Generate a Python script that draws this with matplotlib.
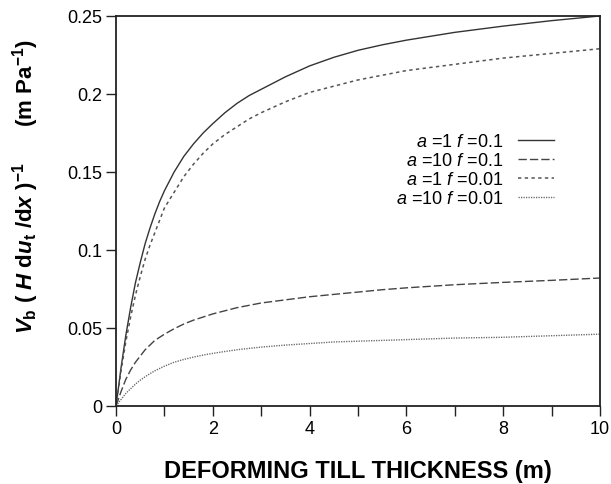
import numpy as np
from matplotlib import pyplot as plt

plt.rcParams['font.family'] = ['Liberation Sans', 'DejaVu Sans']
plt.rcParams['mathtext.fontset'] = 'custom'
plt.rcParams['mathtext.rm'] = 'Liberation Sans:bold'
plt.rcParams['mathtext.bf'] = 'Liberation Sans:bold'
plt.rcParams['mathtext.it'] = 'Liberation Sans:italic:bold'
plt.rcParams['mathtext.sf'] = 'Liberation Sans:italic'

# values
thickness = [0, 0.1, 0.2, 0.3, 0.4, 0.5, 0.6, 0.7, 0.8, 0.9,
             1.0, 1.2, 1.4, 1.6, 1.8, 2.0, 2.25, 2.5, 2.75,
             3, 3.5, 4, 4.5, 5, 5.5, 6, 7, 8, 9, 10]
a1_f01 = [0, 0.024, 0.045, 0.063, 0.079, 0.092, 0.104, 0.114, 0.123, 0.131,
          0.138, 0.150, 0.160, 0.168, 0.175, 0.181, 0.188, 0.194, 0.199,
          0.203, 0.211, 0.218, 0.2235, 0.228, 0.2315, 0.2345, 0.2395, 0.2435, 0.247, 0.250]
a10_f01 = [0, 0.009, 0.017, 0.023, 0.028, 0.032, 0.036, 0.039, 0.042, 0.044,
           0.046, 0.0495, 0.0525, 0.055, 0.057, 0.059, 0.061, 0.063, 0.0645,
           0.066, 0.068, 0.070, 0.0715, 0.073, 0.0745, 0.0757, 0.0777, 0.0792, 0.0805, 0.082]
a1_f001 = [0, 0.022, 0.041, 0.057, 0.071, 0.083, 0.094, 0.103, 0.111, 0.119,
           0.127, 0.137, 0.147, 0.155, 0.162, 0.168, 0.174, 0.179, 0.184,
           0.188, 0.195, 0.201, 0.205, 0.209, 0.212, 0.215, 0.219, 0.223, 0.226, 0.229]
a10_f001 = [0, 0.004, 0.008, 0.011, 0.014, 0.0165, 0.0187, 0.0207, 0.0225, 0.024,
            0.0255, 0.028, 0.0298, 0.0313, 0.0326, 0.0337, 0.0349, 0.036, 0.0369,
            0.0377, 0.039, 0.040, 0.041, 0.0415, 0.042, 0.0425, 0.0435, 0.044, 0.045, 0.046]

labels = [r"$\mathsf{a}$ =1 $\mathsf{f}$ =0.1",
          r"$\mathsf{a}$ =10 $\mathsf{f}$ =0.1",
          r"$\mathsf{a}$ =1 $\mathsf{f}$ =0.01",
          r"$\mathsf{a}$ =10 $\mathsf{f}$ =0.01"]

fig = plt.figure(figsize=(6.11, 4.85), dpi=100)
ax = fig.add_axes([0.19, 0.161, 0.792, 0.804])

ax.plot(thickness, a1_f01, color='#333333', lw=1.0, label=labels[0])
ax.plot(thickness, a10_f01, color='#444444', lw=1.0, dashes=(6, 2.2), label=labels[1])
ax.plot(thickness, a1_f001, color='#555555', lw=1.1, dashes=(2.2, 2.2), label=labels[2])
ax.plot(thickness, a10_f001, color='#666666', lw=1.0, dashes=(0.9, 0.9), label=labels[3])

ax.set_xlim(0, 10)
ax.set_ylim(0, 0.25)
ax.set_xticks([0, 2, 4, 6, 8, 10])
ax.set_xticklabels(['0', '2', '4', '6', '8', '10'])
ax.set_xticks([1, 3, 5, 7, 9], minor=True)
ax.set_yticks([0, 0.05, 0.1, 0.15, 0.2, 0.25])
ax.set_yticklabels(['0', '0.05', '0.1', '0.15', '0.2', '0.25'])
ax.tick_params(which='both', direction='out', length=7, width=1, labelsize=13,
               color='#222222', pad=3)
for s in ax.spines.values():
    s.set_linewidth(1.3)
    s.set_color('#222222')

ax.set_xlabel("DEFORMING TILL THICKNESS (m)", fontsize=17, fontweight='bold', labelpad=16)
ax.set_ylabel(r"$V_\mathbf{b}$ ( $H$ d$u_\mathbf{t}$ /d$x$ )$^{-1}$      (m Pa$^{-1}$)",
              fontsize=16, fontweight='bold')
ax.yaxis.set_label_coords(-0.155, 0.565)

leg = ax.legend(loc='upper right', bbox_to_anchor=(0.905, 0.70), frameon=False,
                markerfirst=False, fontsize=13, handlelength=2.0, handletextpad=0.8,
                labelspacing=0.12, borderpad=0, borderaxespad=0)

fig.savefig('out.png', dpi=100)
